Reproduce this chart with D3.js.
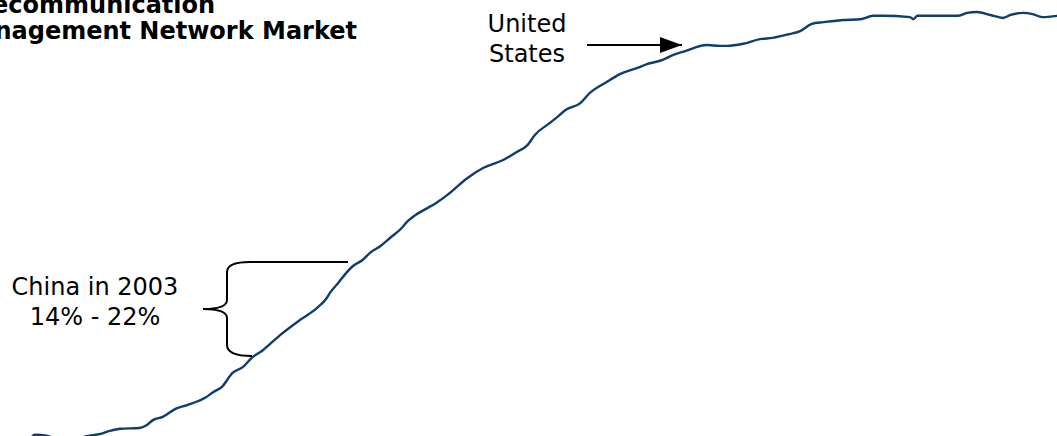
<!DOCTYPE html>
<html>
<head>
<meta charset="utf-8">
<script src="https://cdn.jsdelivr.net/npm/d3@7"></script>
<style>
	html, body { margin: 0; padding: 0; background: #fff; }
	svg { display: block; }
</style>
</head>
<body>
<div id="chart" style="width:1057px;height:436px;"></div>
<script>
// ----------------------------------
// DATA
// ----------------------------------

// time index (0 - 100) along the adoption curve
const periods = [2.8, 3.3, 4.4, 6.0, 8.3, 9.5, 10.4, 11.4, 13.2, 13.9, 14.5, 15.4, 16.6, 17.7, 19.4, 20.2, 21.0,
	22.0, 23.0, 23.8, 24.9, 26.5, 28.4, 30.0, 30.9, 31.2, 32.0, 32.6, 33.4, 34.3, 35.0, 36.0, 36.9, 38.1, 38.5,
	39.3, 41.3, 42.3, 44.2, 45.7, 47.6, 48.9, 49.9, 50.6, 52.0, 52.7, 53.5, 54.9, 55.8, 57.4, 58.7, 60.3, 61.2,
	62.7, 63.7, 64.6, 66.9, 68.1, 68.8, 70.3, 71.9, 73.1, 74.7, 75.7, 76.8, 77.9, 79.8, 81.4, 82.6, 83.5, 86.1,
	86.4, 86.8, 88.6, 90.6, 91.5, 92.4, 93.7, 94.9, 95.6, 96.8, 97.7, 98.6, 100];

// market penetration index (0 - 100)
const penetration = [-1.0, 0.3, 0.1, -1.5, 0.0, 0.5, 1.2, 1.7, 1.9, 2.6, 3.8, 4.5, 6.4, 7.3, 9.0, 10.4, 11.6,
	14.9, 16.3, 18.4, 20.3, 23.8, 27.4, 30.2, 32.5, 33.7, 36.1, 38.0, 40.1, 41.5, 43.2, 44.8, 46.7, 49.3, 50.5,
	52.1, 55.0, 56.8, 60.8, 63.2, 65.1, 67.0, 68.6, 71.0, 73.8, 75.2, 76.9, 78.5, 80.9, 83.5, 85.4, 86.8, 87.7,
	88.7, 89.9, 90.6, 92.2, 92.0, 92.0, 92.5, 93.6, 93.9, 94.8, 95.5, 97.2, 97.6, 98.1, 98.3, 99.1, 99.1, 98.8,
	98.3, 99.1, 99.1, 99.1, 99.8, 100, 99.3, 98.6, 99.3, 99.8, 99.5, 98.8, 99.1];

const titleLines = ['Telecommunication', 'Management Network Market'];
const usLabel = ['United', 'States'];
const chinaLabel = ['China in 2003', '14% - 22%'];

// ----------------------------------
// SETUP
// ----------------------------------

const container = d3.select('#chart'),
	width = 1057,
	height = 436,
	lineColor = '#0f3d6d',
	fontFamily = 'Verdana, "DejaVu Sans", sans-serif',
	fontSize = '24px';

const data = periods.map((p, i) => ({ x: p, y: penetration[i] }));

const x = d3.scaleLinear()
	.domain([0, 100])
	.range([0, width]);

const y = d3.scaleLinear()
	.domain([0, 100])
	.range([height, 12]);

const svg = container
	.append('svg')
	.attr('width', width)
	.attr('height', height);

svg.append('defs')
	.append('marker')
	.attr('id', 'arrow')
	.attr('viewBox', '0 0 22 16')
	.attr('refX', 22)
	.attr('refY', 8)
	.attr('markerWidth', 22)
	.attr('markerHeight', 16)
	.attr('markerUnits', 'userSpaceOnUse')
	.attr('orient', 'auto')
	.append('path')
	.attr('d', 'M0,0 L22,8 L0,16 Z')
	.attr('fill', '#000');

// ----------------------------------
// The curve
// ----------------------------------

const line = d3.line()
	.x(d => x(d.x))
	.y(d => y(d.y))
	.curve(d3.curveMonotoneX);

svg.append('path')
	.datum(data)
	.attr('d', line)
	.attr('fill', 'none')
	.attr('stroke', lineColor)
	.attr('stroke-width', 2.4)
	.attr('stroke-linejoin', 'round')
	.attr('stroke-linecap', 'round');

// ----------------------------------
// Title (runs off the left edge)
// ----------------------------------

const title = svg.append('text')
	.style('font-family', fontFamily)
	.style('font-size', fontSize)
	.style('font-weight', 'bold')
	.attr('fill', '#000');

title.selectAll('tspan')
	.data(titleLines)
	.enter()
	.append('tspan')
	.attr('dy', (d, i) => i === 0 ? 0 : 26)
	.text(d => d);

// line 2 ends at 357px, both lines share the same left edge
const lastLen = title.selectAll('tspan').nodes()[1].getComputedTextLength();
title.attr('y', 13);
title.selectAll('tspan').attr('x', 357 - lastLen);

// ----------------------------------
// Annotations
// ----------------------------------

const annot = (lines, cx, baseline) => {
	svg.append('text')
		.attr('text-anchor', 'middle')
		.style('font-family', fontFamily)
		.style('font-size', fontSize)
		.attr('fill', '#000')
		.selectAll('tspan')
		.data(lines)
		.enter()
		.append('tspan')
		.attr('x', cx)
		.attr('y', (d, i) => baseline + i * 30)
		.text(d => d);
};

annot(usLabel, 527, 32);
annot(chinaLabel, 95, 295);

// arrow to the US point on the curve
svg.append('line')
	.attr('x1', 587)
	.attr('y1', 45)
	.attr('x2', 682)
	.attr('y2', 45)
	.attr('stroke', '#000')
	.attr('stroke-width', 2)
	.attr('marker-end', 'url(#arrow)');

// brace around China's range
const brace = d3.path();
brace.moveTo(348, 262);
brace.lineTo(250, 262);
brace.bezierCurveTo(235, 262, 227, 265, 227, 272);
brace.lineTo(227, 300);
brace.bezierCurveTo(227, 306, 218, 309, 203, 309);
brace.bezierCurveTo(218, 309, 227, 312, 227, 318);
brace.lineTo(227, 345);
brace.bezierCurveTo(227, 352, 235, 356, 252, 356);

svg.append('path')
	.attr('d', brace.toString())
	.attr('fill', 'none')
	.attr('stroke', '#000')
	.attr('stroke-width', 2);
</script>
</body>
</html>
